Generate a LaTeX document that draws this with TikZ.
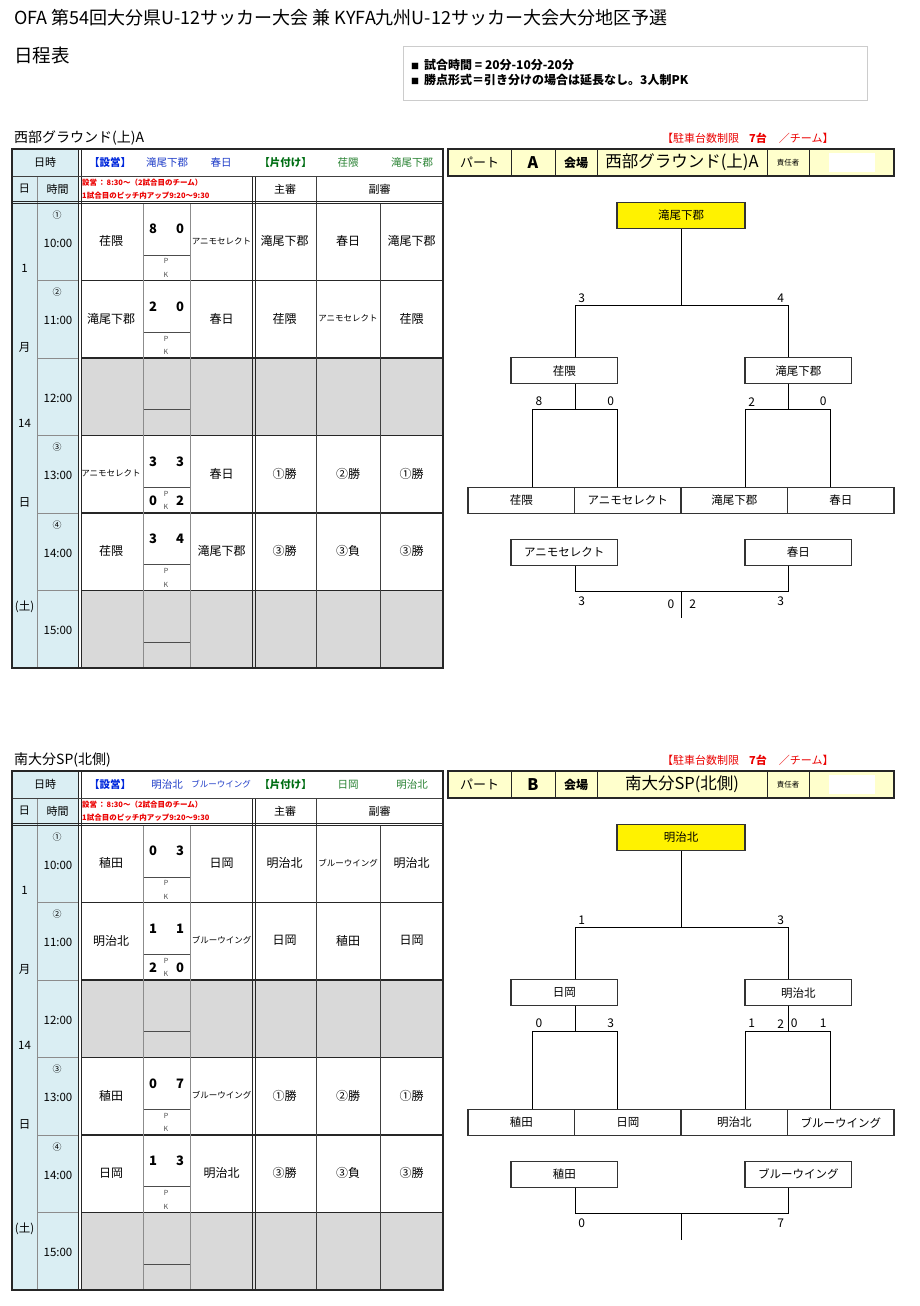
\documentclass[tikz,border=0pt]{standalone}
\usepackage{fontspec}
\setmainfont{Noto Sans CJK JP}
\usetikzlibrary{calc}

\definecolor{hdblue}{RGB}{218,238,243}
\definecolor{cellgray}{RGB}{217,217,217}
\definecolor{partyellow}{RGB}{255,255,204}
\definecolor{setblue}{RGB}{0,40,220}
\definecolor{namblue}{RGB}{30,60,200}
\definecolor{clrgreen}{RGB}{0,110,20}
\definecolor{namgreen}{RGB}{40,130,50}
\definecolor{notered}{RGB}{235,0,0}

\newcommand\fsz[1]{\fontsize{#1}{#1}\selectfont}
\newcommand\smname{\fontsize{8.5}{8.5}\selectfont}

\tikzset{
  wire/.style={line width=0.9pt, black},
  tblouter/.style={line width=1.6pt, black!85},
  rowline/.style={line width=1.1pt, black!85},
  dbl/.style={line width=0.8pt, black!85},
  gridgrey/.style={line width=0.6pt, black!45},
  griddark/.style={line width=0.8pt, black!75},
  splitline/.style={line width=0.8pt, black!70},
  partline/.style={line width=1pt, black!85},
  cell/.style={font=\fsz{12}},
  score/.style={font=\bfseries\fsz{13}},
  pk/.style={font=\fsz{7}, text=black!70},
  circ/.style={font=\fsz{9}},
  tm/.style={font=\fsz{11.5}},
  hd/.style={font=\fsz{11}},
  note/.style={font=\bfseries\fsz{7.5}, text=notered, anchor=west},
  setup/.style={font=\bfseries\fsz{10.5}, text=setblue},
  setupname/.style={font=\fsz{10.5}, text=namblue},
  cleanup/.style={font=\bfseries\fsz{10.5}, text=clrgreen},
  cleanupname/.style={font=\fsz{10.5}, text=namgreen},
  parking/.style={font=\fsz{11}, text=notered, anchor=west},
  info/.style={font=\bfseries\fsz{12}, anchor=west},
  team/.style={draw=black!80, line width=1.1pt, fill=white, minimum width=106.5pt, minimum height=26pt, font=\fsz{11.5}},
  champ/.style={team, fill=yellow, minimum width=128pt},
  sc/.style={font=\fsz{12}}
}

\begin{document}
\begin{tikzpicture}[x=1pt, y=-1pt, every node/.style={inner sep=0pt}]
  \fill[white] (0,0) rectangle (919,1306);
  \useasboundingbox (0,0) rectangle (919,1306);

  %%%%% HEADER %%%%%
  \node[anchor=west, font=\fsz{18}] (title) at (14,18) {OFA 第54回大分県U-12サッカー大会 兼 KYFA九州U-12サッカー大会大分地区予選};
  \node[anchor=west, font=\fsz{18.5}] (sched) at (14,55) {日程表};
  \draw[black!20, line width=0.8pt] (403.3,46.7) rectangle (867.3,100);
  \node[info] (rule1) at (411,65) {{\fsz{8}■}\hspace{5pt}試合時間 = 20分-10分-20分};
  \node[info] (rule2) at (411,79.5) {{\fsz{8}■}\hspace{5pt}勝点形式＝引き分けの場合は延長なし。3人制PK};

  %%%%% FRAMES %%%%%
  \foreach \s/\p/\pt/\ven/\ua/\ub/\ca/\cb in {0/a/A/西部グラウンド(上)A/滝尾下郡/春日/荏隈/滝尾下郡, 622/b/B/南大分SP(北側)/明治北/{\fsz{8.5}ブルーウイング}/日岡/明治北}{
    \begin{scope}[shift={(0,\s)}]
      \node[anchor=west, font=\fsz{14}] (\p-venue) at (14,138) {\ven};
      \node[parking] (\p-park) at (662,138) {【駐車台数制限\hspace{0.9em}\textbf{7台}\hspace{1.1em}／チーム】};

      % fills
      \fill[hdblue] (12,149) rectangle (78.5,668);
      \fill[cellgray] (81,358) rectangle (443,435.5);
      \fill[cellgray] (81,590.5) rectangle (443,668);

      % grid
      \foreach \yy in {280.5,358,435.5,513,590.5} {
        \draw[gridgrey] (37,\yy) -- (78.5,\yy);
        \draw[rowline] (81,\yy) -- (443,\yy);
      }
      \foreach \yy in {203.5,280.5,358,435.5,513,590.5}
        \draw[splitline] (143,\yy+51.7) -- (190,\yy+51.7);
      \draw[gridgrey] (37,176) -- (37,668);
      \draw[gridgrey] (143,203) -- (143,668);
      \draw[gridgrey] (190,203) -- (190,668);
      \draw[griddark] (316,176) -- (316,668);
      \draw[griddark] (380,203) -- (380,668);
      \draw[dbl] (78.5,149) -- (78.5,668);
      \draw[dbl] (81,149) -- (81,668);
      \draw[dbl] (252.5,176) -- (252.5,668);
      \draw[dbl] (255,176) -- (255,668);
      \draw[griddark] (12,176) -- (443,176);
      \draw[dbl] (12,201) -- (443,201);
      \draw[dbl] (12,203.5) -- (443,203.5);
      \draw[tblouter] (12,149) rectangle (443,668);

      % header texts
      \node[hd] (\p-dt) at (45,162.5) {日時};
      \node[setup] (\p-su) at (110,162.5) {【設営】};
      \node[setupname] (\p-su1) at (167,162.5) {\ua};
      \node[setupname] (\p-su2) at (221,162.5) {\ub};
      \node[cleanup] (\p-cl) at (285.5,162.5) {【片付け】};
      \node[cleanupname] (\p-cl1) at (348,162.5) {\ca};
      \node[cleanupname] (\p-cl2) at (412,162.5) {\cb};
      \node[hd] (\p-d) at (24.5,189) {日};
      \node[hd] (\p-tm) at (57.5,189) {時間};
      \node[note] (\p-n1) at (82,182.5) {設営\hspace{1pt}：\hspace{1pt}8:30～（2試合目のチーム）};
      \node[note] (\p-n2) at (82,195.5) {1試合目のピッチ内アップ9:20～9:30};
      \node[hd] (\p-ref) at (285,189) {主審};
      \node[hd] (\p-sub) at (379.5,189) {副審};

      % date and times
      \node[tm] (\p-day1) at (24.5,268) {1};
      \node[tm] (\p-day2) at (24.5,347) {月};
      \node[tm] (\p-day3) at (24.5,423) {14};
      \node[tm] (\p-day4) at (24.5,502) {日};
      \node[tm] (\p-day5) at (24.5,607) {(土)};
      \foreach \k/\t in {1/10:00, 2/11:00, 3/12:00, 4/13:00, 5/14:00, 6/15:00}
        \node[tm] (\p-t\k) at (58,125.5+77.5*\k+40) {\t};

      % part box
      \fill[partyellow] (448,149) rectangle (894,176);
      \fill[white] (829,153) rectangle (875,172);
      \foreach \xx in {511,555,597,767,809}
        \draw[partline] (\xx,149) -- (\xx,176);
      \draw[tblouter] (448,149) rectangle (894,176);
      \node[font=\fsz{13}] (\p-part) at (479.5,162.5) {パート};
      \node[font=\bfseries\fsz{16}] (\p-pl) at (533,162.5) {\pt};
      \node[font=\bfseries\fsz{12}] (\p-site) at (576,162.5) {会場};
      \node[font=\fsz{16.5}] (\p-sname) at (682,162.5) {\ven};
      \node[font=\fsz{7.5}] (\p-boss) at (788,162.5) {責任者};
    \end{scope}
  }

  %%%%% MATCHES %%%%%
  \foreach \s/\p/\k/\c/\h/\sh/\sa/\aw/\ra/\rb/\rc in {
      0/a/1/①/荏隈/8/0/{\smname アニモセレクト}/滝尾下郡/春日/滝尾下郡,
      0/a/2/②/滝尾下郡/2/0/春日/荏隈/{\smname アニモセレクト}/荏隈,
      0/a/4/③/{\smname アニモセレクト}/3/3/春日/①勝/②勝/①勝,
      0/a/5/④/荏隈/3/4/滝尾下郡/③勝/③負/③勝,
      622/b/1/①/稙田/0/3/日岡/明治北/{\smname ブルーウイング}/明治北,
      622/b/2/②/明治北/1/1/{\smname ブルーウイング}/日岡/稙田/日岡,
      622/b/4/③/稙田/0/7/{\smname ブルーウイング}/①勝/②勝/①勝,
      622/b/5/④/日岡/1/3/明治北/③勝/③負/③勝}{
    \pgfmathsetmacro\yr{125.5+77.5*\k+\s}
    \node[circ] (\p\k-c) at (57,\yr+12) {\c};
    \node[cell] (\p\k-h) at (111,\yr+38) {\h};
    \node[score] (\p\k-sh) at (153,\yr+26) {\sh};
    \node[score] (\p\k-sa) at (180,\yr+26) {\sa};
    \node[pk] (\p\k-p) at (166,\yr+58) {P};
    \node[pk] (\p\k-k) at (166,\yr+71.5) {K};
    \node[cell] (\p\k-a) at (221.5,\yr+38) {\aw};
    \node[cell] (\p\k-r1) at (284.5,\yr+38) {\ra};
    \node[cell] (\p\k-r2) at (348,\yr+38) {\rb};
    \node[cell] (\p\k-r3) at (411.5,\yr+38) {\rc};
  }
  \node[score] (a4-ph) at (153,501) {0};
  \node[score] (a4-pa) at (180,501) {2};
  \node[score] (b2-ph) at (153,968) {2};
  \node[score] (b2-pa) at (180,968) {0};

  %%%%% BRACKET A %%%%%
  \node[champ] (aw) at (681,215.3) {滝尾下郡};
  \node[team] (as1) at (564.25,370.9) {荏隈};
  \node[team] (as2) at (798.25,370.9) {滝尾下郡};
  \node[team] (ar1) at (521.25,500.5) {荏隈};
  \node[team] (ar2) at (627.75,500.5) {アニモセレクト};
  \node[team] (ar3) at (734.25,500.5) {滝尾下郡};
  \node[team] (ar4) at (840.75,500.5) {春日};
  \node[team] (at1) at (564.25,552.3) {アニモセレクト};
  \node[team] (at2) at (798.25,552.3) {春日};

  \coordinate (aj) at (681,305.7);
  \coordinate (am1) at (532.7,409.3);
  \coordinate (am2) at (617.5,409.3);
  \coordinate (am3) at (745,409.3);
  \coordinate (am4) at (830.3,409.3);
  \coordinate (ab) at (681,591.3);
  \coordinate (abend) at (681,617.7);

  \draw[wire] (aw.south) -- (aj);
  \draw[wire] (as1.north -| ar1.east) |- (aj) -| (as2.north -| ar3.east);
  \draw[wire] (as1.south -| ar1.east) -- (am1 -| ar1.east);
  \draw[wire] (ar1.north -| am1) -- (am1) -- (am2) -- (ar2.north -| am2);
  \draw[wire] (as2.south -| ar3.east) -- (am3 -| ar3.east);
  \draw[wire] (ar3.north -| am3) -- (am3) -- (am4) -- (ar4.north -| am4);
  \draw[wire] (at1.south -| ar1.east) |- (ab) -| (at2.south -| ar3.east);
  \draw[wire] (ab) -- (abend);

  \node[sc] (a-f1) at (581.7,298) {3};
  \node[sc] (a-f2) at (780.7,298) {4};
  \node[sc] (a-l1) at (539,401.7) {8};
  \node[sc] (a-l2) at (610.7,401.7) {0};
  \node[sc] (a-r1) at (751.7,401.7) {2};
  \node[sc] (a-r2) at (823.3,401.7) {0};
  \node[sc] (a-b1) at (581.7,601.7) {3};
  \node[sc] (a-b2) at (671,604.3) {0};
  \node[sc] (a-b3) at (692.7,604.3) {2};
  \node[sc] (a-b4) at (780.7,601.7) {3};

  %%%%% BRACKET B %%%%%
  \begin{scope}[shift={(0,622)}]
    \node[champ] (bw) at (681,215.3) {明治北};
    \node[team] (bs1) at (564.25,370.9) {日岡};
    \node[team] (bs2) at (798.25,370.9) {明治北};
    \node[team] (br1) at (521.25,500.5) {稙田};
    \node[team] (br2) at (627.75,500.5) {日岡};
    \node[team] (br3) at (734.25,500.5) {明治北};
    \node[team] (br4) at (840.75,500.5) {ブルーウイング};
    \node[team] (bt1) at (564.25,552.3) {稙田};
    \node[team] (bt2) at (798.25,552.3) {ブルーウイング};

    \coordinate (bj) at (681,305.7);
    \coordinate (bm1) at (532.7,409.3);
    \coordinate (bm2) at (617.5,409.3);
    \coordinate (bm3) at (745,409.3);
    \coordinate (bm4) at (830.3,409.3);
    \coordinate (bb) at (681,591.3);
    \coordinate (bbend) at (681,617.7);

    \draw[wire] (bw.south) -- (bj);
    \draw[wire] (bs1.north -| br1.east) |- (bj) -| (bs2.north -| br3.east);
    \draw[wire] (bs1.south -| br1.east) -- (bm1 -| br1.east);
    \draw[wire] (br1.north -| bm1) -- (bm1) -- (bm2) -- (br2.north -| bm2);
    \draw[wire] (bs2.south -| br3.east) -- (bm3 -| br3.east);
    \draw[wire] (br3.north -| bm3) -- (bm3) -- (bm4) -- (br4.north -| bm4);
    \draw[wire] (bt1.south -| br1.east) |- (bb) -| (bt2.south -| br3.east);
    \draw[wire] (bb) -- (bbend);

    \node[sc] (b-f1) at (581.7,298) {1};
    \node[sc] (b-f2) at (780.7,298) {3};
    \node[sc] (b-l1) at (539,401.7) {0};
    \node[sc] (b-l2) at (610.7,401.7) {3};
    \node[sc] (b-r1) at (751.7,401.7) {1};
    \node[sc] (b-r2) at (780.7,401.7) {2};
    \node[sc] (b-r3) at (794.3,401.7) {0};
    \node[sc] (b-r4) at (823.3,401.7) {1};
    \node[sc] (b-b1) at (581.7,601.7) {0};
    \node[sc] (b-b4) at (780.7,601.7) {7};
  \end{scope}
\end{tikzpicture}
\end{document}
